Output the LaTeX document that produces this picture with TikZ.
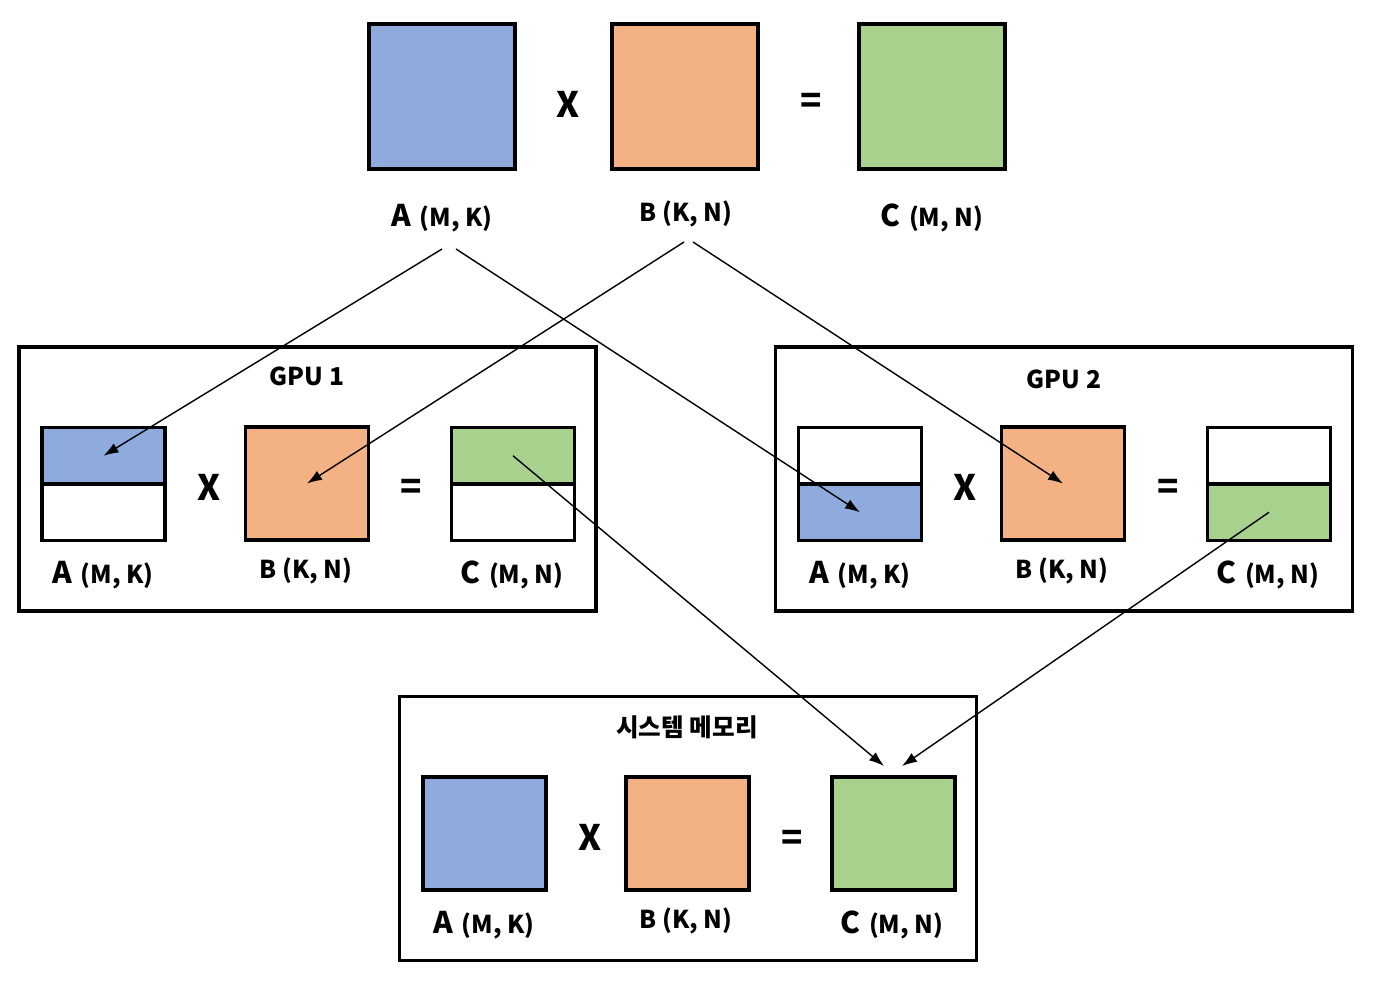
\documentclass[tikz,border=0pt]{standalone}
\usepackage{fontspec}
\setmainfont{Noto Sans CJK KR}
\usetikzlibrary{arrows.meta,positioning}
\definecolor{matA}{HTML}{8FAADC}
\definecolor{matB}{HTML}{F4B183}
\definecolor{matC}{HTML}{A9D18E}
\newcommand{\biglet}[1]{{\fontsize{17}{17}\selectfont #1}\hspace{0.35em}}

\begin{document}
\begin{tikzpicture}[x=0.02cm,y=-0.02cm,font=\bfseries]
\tikzstyle{big} = [draw, line width=2.2pt, minimum width=2.92cm, minimum height=2.9cm, inner sep=0pt]
\tikzstyle{small} = [draw, line width=2.2pt, minimum width=2.46cm, minimum height=2.26cm, inner sep=0pt]
\tikzstyle{half} = [draw, line width=2.2pt, minimum width=2.46cm, minimum height=1.13cm, inner sep=0pt]
\tikzstyle{frame} = [draw, line width=2pt, minimum width=11.54cm, minimum height=5.28cm, inner sep=0pt]
\tikzstyle{op} = [font=\bfseries\fontsize{20}{20}\selectfont, inner sep=0pt]
\tikzstyle{lbl} = [font=\bfseries\fontsize{14}{16}\selectfont, inner sep=0pt]
\tikzstyle{title} = [font=\bfseries\fontsize{14}{16}\selectfont, inner sep=0pt]
\tikzstyle{flow} = [-{Latex[length=3mm,width=2.1mm]}, line width=0.8pt]
\useasboundingbox (0,0) rectangle (1380,985);

% top row
\node [big,fill=matA] (a0) at (442,96.5) {};
\node [big,fill=matB] (b0) at (685,96.5) {};
\node [big,fill=matC] (c0) at (932,96.5) {};
\node [op] at (568,104) {X};
\node [op] at (811,103) {=};
\node [lbl] (a0lbl) at (442,218) {\biglet{A}(M, K)};
\node [lbl] (b0lbl) at (686,214) {B (K, N)};
\node [lbl] (c0lbl) at (932,218) {\biglet{C}(M, N)};

% GPU 1
\node [frame] (gpu1) at (307.5,479) {};
\node [title] at (307,376) {GPU 1};
\node [half] (a1bot) at (103.5,512.25) {};
\node [half,fill=matA] (a1top) at (103.5,455.75) {};
\node [small,fill=matB] (b1) at (307,483.5) {};
\node [half] (c1bot) at (513,512.25) {};
\node [half,fill=matC] (c1top) at (513,455.75) {};
\node [op] at (209,487) {X};
\node [op] at (411,489) {=};
\node [lbl] at (103,575) {\biglet{A}(M, K)};
\node [lbl] at (306,571) {B (K, N)};
\node [lbl] at (512,575) {\biglet{C}(M, N)};

% GPU 2
\node [frame] (gpu2) at (1064,479) {};
\node [title] at (1064,379) {GPU 2};
\node [half] (a2top) at (860,455.75) {};
\node [half,fill=matA] (a2bot) at (860,512.25) {};
\node [small,fill=matB] (b2) at (1063,483.5) {};
\node [half] (c2top) at (1269,455.75) {};
\node [half,fill=matC] (c2bot) at (1269,512.25) {};
\node [op] at (965,487) {X};
\node [op] at (1168,489) {=};
\node [lbl] at (860,575) {\biglet{A}(M, K)};
\node [lbl] at (1062,571) {B (K, N)};
\node [lbl] at (1268,575) {\biglet{C}(M, N)};

% system memory
\node [frame] (sys) at (688,828.5) {};
\node [title] at (687,727) {시스템 메모리};
\node [small,fill=matA] (a3) at (484.5,833.5) {};
\node [small,fill=matB] (b3) at (687.5,833.5) {};
\node [small,fill=matC] (c3) at (893.5,833.5) {};
\node [op] at (590,837) {X};
\node [op] at (792,840) {=};
\node [lbl] at (484,925) {\biglet{A}(M, K)};
\node [lbl] at (686,921) {B (K, N)};
\node [lbl] at (892,925) {\biglet{C}(M, N)};

% split and gather
\coordinate (aout1) at (442,249);
\coordinate (aout2) at (456,249);
\coordinate (bout1) at (684,242);
\coordinate (bout2) at (693,242);
\coordinate (cin1) at (884,766);
\coordinate (cin2) at (902,766);
\draw [flow] (aout1) -- (a1top.center);
\draw [flow] (aout2) -- (a2bot.center);
\draw [flow] (bout1) -- (b1.center);
\draw [flow] (bout2) -- (b2.center);
\draw [flow] (c1top.center) -- (cin1);
\draw [flow] (c2bot.center) -- (cin2);
\end{tikzpicture}
\end{document}
